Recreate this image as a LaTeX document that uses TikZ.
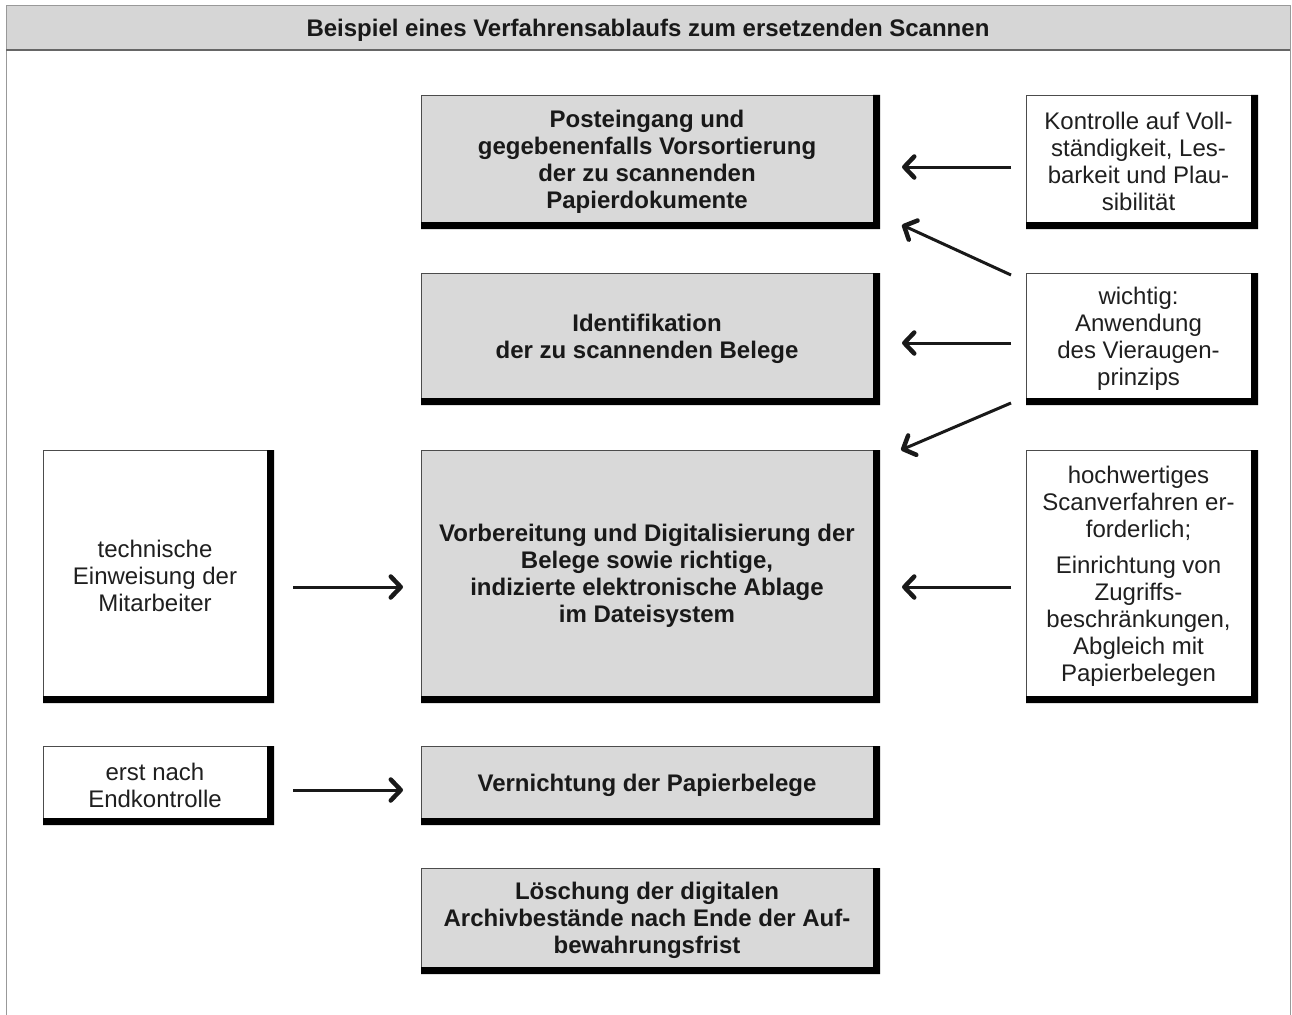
\documentclass[tikz,border=0pt]{standalone}
\usepackage{fontspec}
\setmainfont{Liberation Sans}
\usetikzlibrary{arrows.meta,calc}
\tikzset{
  base/.style={rectangle, draw=black!70, line width=0.8pt, outer sep=0pt, inner sep=0pt},
  mainbox/.style={base, fill=black!15},
  sidebox/.style={base, fill=white},
  maintxt/.style={align=center, text=black!90, inner sep=0pt, font=\fontsize{24}{27}\selectfont\bfseries},
  sidetxt/.style={align=center, text=black!88, inner sep=0pt, font=\fontsize{24}{27}\selectfont},
  arr/.style={-{Straight Barb[length=10pt,width=21pt,line width=4.5pt,round]}, line width=3pt, black!90},
}
\newcommand\boxband[1]{\fill[black] (#1.north east) -- ++(7,0) |- ($(#1.south west)+(0,7)$) -- (#1.south west) -- (#1.south east) -- cycle;}
\begin{document}
\begin{tikzpicture}[x=1pt,y=-1pt]
\useasboundingbox (0,0) rectangle (1292,1014);
\fill[white] (0,0) rectangle (1292,1014);
% frame and header
\fill[black!16] (6,6) rectangle (1290,50);
\draw[black!40, line width=1pt] (6,1040) -- (6,6) -- (1290,6) -- (1290,1040);
\draw[black!60, line width=1.2pt] (6,50) -- (1290,50);
\node[maintxt] (title) at (648,30.5)
  {Beispiel eines Verfahrensablaufs zum ersetzenden Scannen};
% main column
\node[mainbox, minimum width=452, minimum height=127] (P) at (647,158.5) {};
\node[mainbox, minimum width=452, minimum height=125] (I) at (647,335.5) {};
\node[mainbox, minimum width=452, minimum height=246] (V) at (647,573) {};
\node[mainbox, minimum width=452, minimum height=72] (N) at (647,782) {};
\node[mainbox, minimum width=452, minimum height=99] (L) at (647,917.5) {};
% right column
\node[sidebox, minimum width=225, minimum height=127] (K) at (1138.5,158.5) {};
\node[sidebox, minimum width=225, minimum height=125] (W) at (1138.5,335.5) {};
\node[sidebox, minimum width=225, minimum height=246] (H) at (1138.5,573) {};
% left column
\node[sidebox, minimum width=224, minimum height=246] (T) at (155,573) {};
\node[sidebox, minimum width=224, minimum height=72] (E) at (155,782) {};
% texts
\node[maintxt] (Ptx) at ([yshift=-3pt]P.center)
  {Posteingang und\\gegebenenfalls Vorsortierung\\der zu scannenden\\Papierdokumente};
\node[maintxt] (Itx) at ([yshift=-3pt]I.center)
  {Identifikation\\der zu scannenden Belege};
\node[maintxt] (Vtx) at ([yshift=-3pt]V.center)
  {Vorbereitung und Digitalisierung der\\Belege sowie richtige,\\indizierte elektronische Ablage\\im Dateisystem};
\node[maintxt] (Ntx) at ([yshift=-3pt]N.center)
  {Vernichtung der Papierbelege};
\node[maintxt] (Ltx) at ([yshift=-3pt]L.center)
  {Löschung der digitalen\\Archivbestände nach Ende der Auf-\\bewahrungsfrist};
\node[sidetxt] (Ktx) at ([yshift=-3pt]K.center)
  {Kontrolle auf Voll-\\ständigkeit, Les-\\barkeit und Plau-\\sibilität};
\node[sidetxt] (Wtx) at ([yshift=-3pt]W.center)
  {wichtig:\\Anwendung\\des Vieraugen-\\prinzips};
\node[sidetxt] (Htx) at ([yshift=-3pt]H.center)
  {hochwertiges\\Scanverfahren er-\\forderlich;\\[9pt]Einrichtung von\\Zugriffs-\\beschränkungen,\\Abgleich mit\\Papierbelegen};
\node[sidetxt] (Ttx) at ([yshift=-3pt]T.center)
  {technische\\Einweisung der\\Mitarbeiter};
\node[sidetxt] (Etx) at ([yshift=-3pt]E.center)
  {erst nach\\Endkontrolle};
% thick bands
\foreach \b in {P,I,V,N,L,K,W,H,T,E} {\boxband{\b}}
% connectors
\draw[arr] ([shift={(-15,8.5)}]K.west) -- ([shift={(29,8.5)}]P.east);
\draw[arr] ([shift={(-15,2)}]W.north west) -- ([shift={(29,3)}]P.south east);
\draw[arr] ([shift={(-15,7.5)}]W.west) -- ([shift={(29,7.5)}]I.east);
\draw[arr] ([shift={(-15,5)}]W.south west) -- ([shift={(28,0)}]V.north east);
\draw[arr] ([shift={(-15,14)}]H.west) -- ([shift={(29,14)}]V.east);
\draw[arr] ([shift={(26,14)}]T.east) -- ([shift={(-18,14)}]V.west);
\draw[arr] ([shift={(26,8)}]E.east) -- ([shift={(-18,8)}]N.west);
\end{tikzpicture}
\end{document}
